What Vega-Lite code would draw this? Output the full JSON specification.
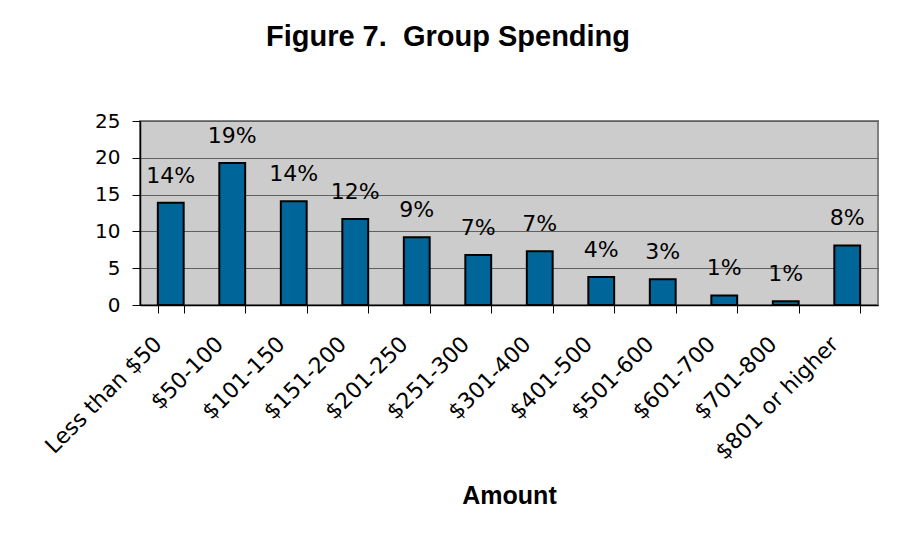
{
  "$schema": "https://vega.github.io/schema/vega-lite/v6.json",
  "autosize": "none",
  "width": 738,
  "height": 184,
  "padding": {"left": 140, "top": 121, "right": 20, "bottom": 234},
  "background": "white",
  "title": {
    "text": "Figure 7.\u00a0\u00a0Group Spending",
    "font": "Liberation Sans",
    "fontSize": 29,
    "fontWeight": "bold",
    "color": "black",
    "anchor": "middle",
    "dx": -61,
    "offset": 59
  },
  "data": {
    "values": [
      {"amount": "Less than $50", "value": 13.9, "label": "14%"},
      {"amount": "$50-100", "value": 19.3, "label": "19%"},
      {"amount": "$101-150", "value": 14.1, "label": "14%"},
      {"amount": "$151-200", "value": 11.7, "label": "12%"},
      {"amount": "$201-250", "value": 9.2, "label": "9%"},
      {"amount": "$251-300", "value": 6.8, "label": "7%"},
      {"amount": "$301-400", "value": 7.3, "label": "7%"},
      {"amount": "$401-500", "value": 3.8, "label": "4%"},
      {"amount": "$501-600", "value": 3.5, "label": "3%"},
      {"amount": "$601-700", "value": 1.3, "label": "1%"},
      {"amount": "$701-800", "value": 0.5, "label": "1%"},
      {"amount": "$801 or higher", "value": 8.1, "label": "8%"}
    ]
  },
  "encoding": {
    "x": {
      "field": "amount",
      "type": "nominal",
      "sort": null,
      "scale": {"paddingInner": 0.58, "paddingOuter": 0.29},
      "axis": {
        "title": "Amount",
        "titleFont": "Liberation Sans",
        "titleFontSize": 25,
        "titleFontWeight": "bold",
        "titleColor": "black",
        "titlePadding": 20,
        "labelAngle": -45,
        "labelFont": "DejaVu Sans",
        "labelFontSize": 22,
        "labelColor": "black",
        "labelPadding": 20,
        "labelOffset": -20,
        "tickBand": "extent",
        "tickSize": 8,
        "tickColor": "black",
        "domainColor": "black",
        "domainWidth": 1.5,
        "grid": false
      }
    },
    "y": {
      "field": "value",
      "type": "quantitative",
      "scale": {"domain": [0, 25]},
      "axis": {
        "title": null,
        "values": [0, 5, 10, 15, 20, 25],
        "labelFont": "DejaVu Sans",
        "labelFontSize": 20,
        "labelColor": "black",
        "labelPadding": 12,
        "tickSize": 8,
        "tickColor": "black",
        "domainColor": "black",
        "domainWidth": 1.5,
        "grid": true,
        "gridColor": "#606060",
        "gridWidth": 1
      }
    }
  },
  "layer": [
    {
      "mark": {"type": "bar", "fill": "#006699", "stroke": "black", "strokeWidth": 2}
    },
    {
      "mark": {"type": "text", "font": "DejaVu Sans", "fontSize": 22, "color": "black", "baseline": "alphabetic", "dy": -20},
      "encoding": {"text": {"field": "label"}}
    }
  ],
  "config": {
    "view": {"fill": "#cccccc", "stroke": "#808080", "strokeWidth": 2}
  }
}
